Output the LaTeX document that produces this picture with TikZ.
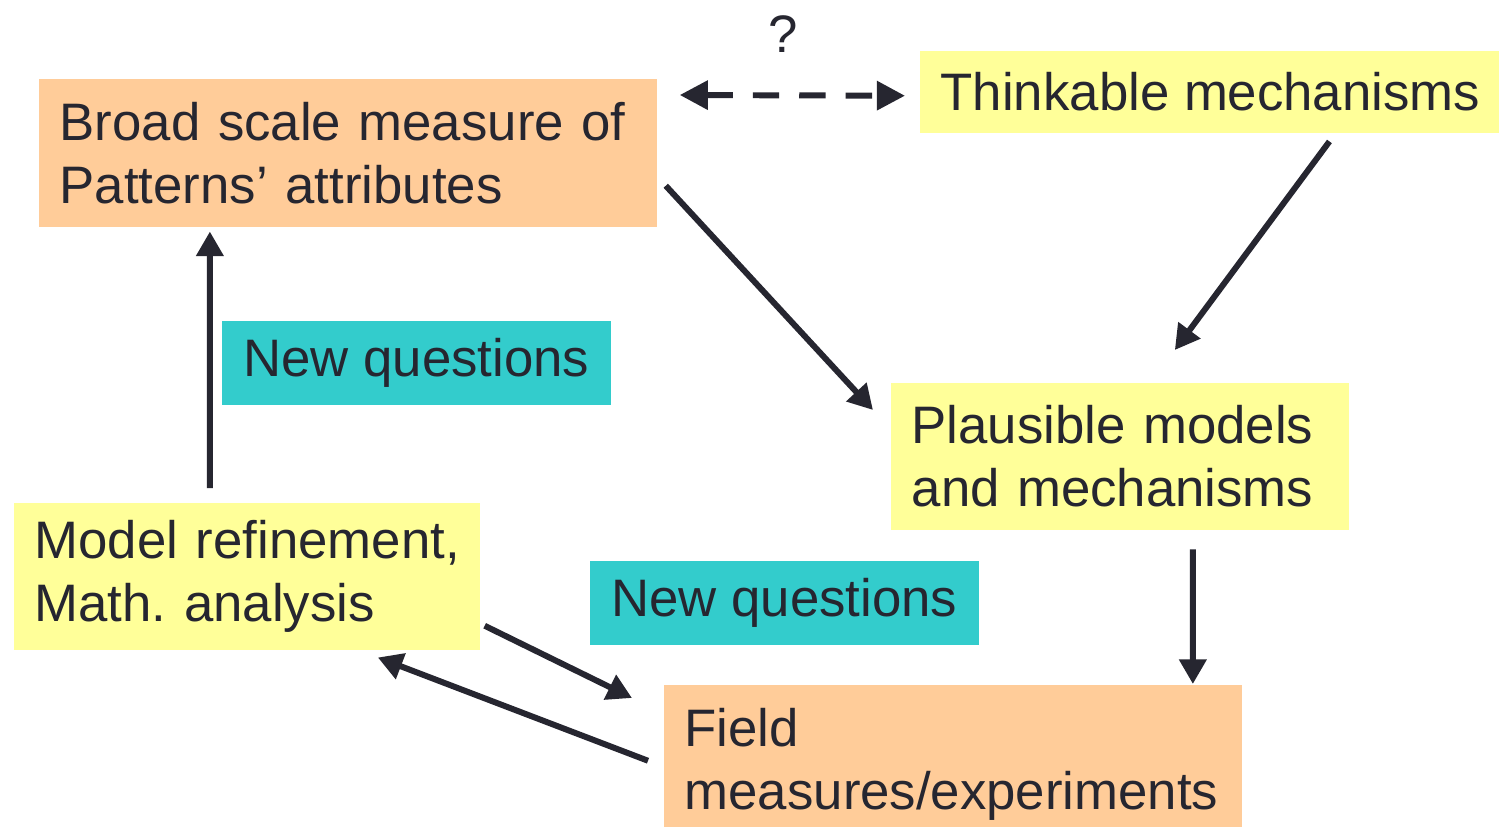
\documentclass[tikz,border=0pt]{standalone}
\usepackage{fontspec}
\setmainfont{Liberation Sans}
\usetikzlibrary{arrows.meta,calc}
\definecolor{orng}{HTML}{FFCC99}
\definecolor{ylw}{HTML}{FFFF99}
\definecolor{teal2}{HTML}{33CCCC}
\definecolor{ink}{HTML}{262630}
\frenchspacing
\tikzset{
  base/.style={inner xsep=0.21cm, inner ysep=0pt, align=left, anchor=north west,
    font=\fontsize{15.0}{17.9}\selectfont, text=ink},
  conn/.style={draw=ink, line width=1.7pt, -{Triangle[length=7pt,width=7.5pt]}},
}
\begin{document}
\begin{tikzpicture}[x=0.01cm,y=-0.01cm]
\useasboundingbox (0,0) rectangle (1499,827);
\fill[white] (0,0) rectangle (1499,827);
\node[base, fill=orng, text width=5.76cm, minimum height=1.48cm] (broad) at (38,78) {\mbox{Broad scale measure of}\\\mbox{Patterns’ attributes}};
\node[base, fill=ylw, align=center, minimum width=5.80cm, minimum height=0.82cm] (think) at (919,50) {Thinkable mechanisms};
\node[base, fill=teal2, align=center, minimum width=3.89cm, minimum height=0.84cm] (nq1) at (221,320) {New questions};
\node[base, fill=ylw, text width=4.16cm, minimum height=1.47cm] (plaus) at (890,382) {\mbox{Plausible models}\\\mbox{and mechanisms}};
\node[base, fill=ylw, text width=4.24cm, minimum height=1.47cm] (model) at (13,502) {\mbox{Model refinement,}\\\mbox{Math. analysis}};
\node[base, fill=teal2, align=center, minimum width=3.89cm, minimum height=0.84cm] (nq2) at (589,560) {New questions};
\node[base, fill=orng, text width=5.36cm, minimum height=1.43cm] (field) at (663,684) {\rule{0pt}{15.5pt}Field\\\mbox{measures/experiments}};
\node[base, anchor=center, inner sep=0pt] (q) at (783,34) {?};

\draw[conn, {Triangle[length=8pt,width=8pt]}-{Triangle[length=8pt,width=8pt]}, dash pattern=on 7.5pt off 5.7pt]
  ($(broad.north east)+(22,17)$) -- ($(think.west)+(-14,4)$);
\draw[conn] ($(broad.east)+(8,33)$) -- ($(plaus.north west)+(-17,28)$);
\draw[conn] ($(think.south)+(119,8)$) -- ($(plaus.north)+(55,-32)$);
\draw[conn] ($(plaus.south)+(73,19)$) -- ($(field.north)+(240,0)$);
\draw[conn] ($(model.east)+(4,49.5)$) -- ($(field.north west)+(-31,14)$);
\draw[conn] ($(field.west)+(-15,4.5)$) -- ($(model.south)+(131,7)$);
\draw[conn] ($(model.north)+(-37,-14)$) -- ($(broad.south)+(-138,4)$);
\end{tikzpicture}
\end{document}
